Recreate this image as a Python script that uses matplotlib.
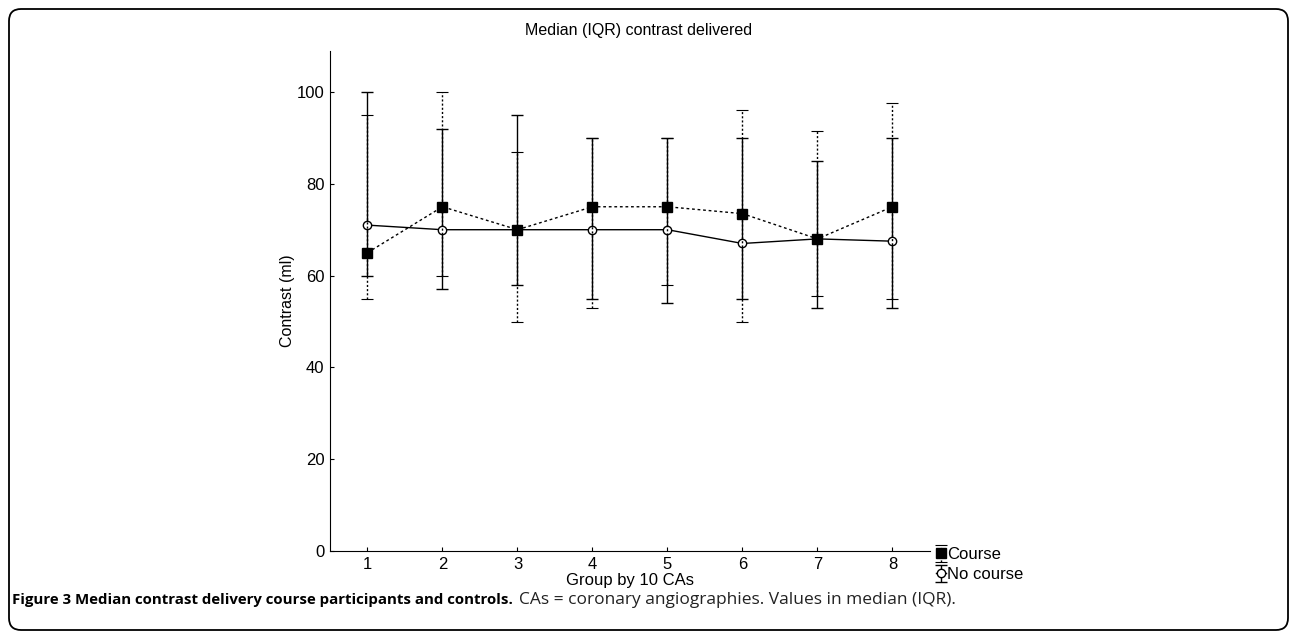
import matplotlib
matplotlib.use("Agg")
import matplotlib.pyplot as plt
from matplotlib.patches import FancyBboxPatch
from matplotlib.transforms import IdentityTransform

plt.rcParams['font.family'] = ['Liberation Sans', 'DejaVu Sans']

groups = [1, 2, 3, 4, 5, 6, 7, 8]
course_med = [65, 75, 70, 75, 75, 73.5, 68, 75]
course_q1 = [55, 60, 50, 53, 58, 50, 55.5, 55]
course_q3 = [95, 100, 87, 90, 90, 96, 91.5, 97.5]
nocourse_med = [71, 70, 70, 70, 70, 67, 68, 67.5]
nocourse_q1 = [60, 57, 58, 55, 54, 55, 53, 53]
nocourse_q3 = [100, 92, 95, 90, 90, 90, 85, 90]

fig = plt.figure(figsize=(12.9, 6.36), dpi=100)
ax = fig.add_axes([0.2558, 0.1336, 0.4651, 0.7867])

nc_err = [[m - lo for m, lo in zip(nocourse_med, nocourse_q1)],
          [hi - m for m, hi in zip(nocourse_med, nocourse_q3)]]
c_err = [[m - lo for m, lo in zip(course_med, course_q1)],
         [hi - m for m, hi in zip(course_med, course_q3)]]

eb_nc = ax.errorbar(groups, nocourse_med, yerr=nc_err, fmt='-o', color='black',
                    mfc='white', mec='black', ms=6, lw=1, elinewidth=1,
                    capsize=4.5, capthick=1, label='No course', zorder=2)
eb_c = ax.errorbar(groups, course_med, yerr=c_err, fmt='s', color='black',
                   mfc='black', ms=7, lw=1, elinewidth=1,
                   capsize=4.5, capthick=0.8, label='Course', zorder=3)
eb_c[0].set_linestyle((0, (2, 2)))
for ln in eb_c[2]:
    ln.set_linestyle((0, (1.5, 1.5)))

ax.set_xlim(0.5, 8.5)
ax.set_ylim(0, 109)
ax.set_xticks(groups)
ax.set_yticks([0, 20, 40, 60, 80, 100])
ax.tick_params(direction='in', length=3, labelsize=12, color='black', pad=4)
ax.spines['top'].set_visible(False)
ax.spines['right'].set_visible(False)
ax.set_title('Median (IQR) contrast delivered', fontsize=11.5, pad=11, x=0.515)
ax.set_xlabel('Group by 10 CAs', fontsize=12, labelpad=1)
ax.set_ylabel('Contrast (ml)', fontsize=11.5, labelpad=1)

ax.legend(handles=[eb_c, eb_nc], labels=['Course', 'No course'],
          loc='center left', bbox_to_anchor=(0.99, -0.027), frameon=False,
          fontsize=12, handlelength=0.6, handletextpad=0.1, labelspacing=0.3,
          borderaxespad=0.3)

# caption below the figure
cap1 = fig.text(0.0095, 0.056, 'Figure 3 Median contrast delivery course participants and controls.',
                fontsize=10.8, fontweight='bold', family=['Open Sans', 'Liberation Sans'],
                va='center')
fig.canvas.draw()
bb = cap1.get_window_extent()
fig.text((bb.x1 + 6) / fig.bbox.width, 0.056,
         'CAs = coronary angiographies. Values in median (IQR).',
         fontsize=12.5, family=['Open Sans', 'Liberation Sans'], va='center', color='#222222')

frame = FancyBboxPatch((9, 6), 1279, 621, boxstyle='round,pad=0,rounding_size=12',
                       transform=IdentityTransform(), fill=False, lw=1.3, ec='black')
fig.patches.append(frame)

fig.savefig('out.png', dpi=100)
